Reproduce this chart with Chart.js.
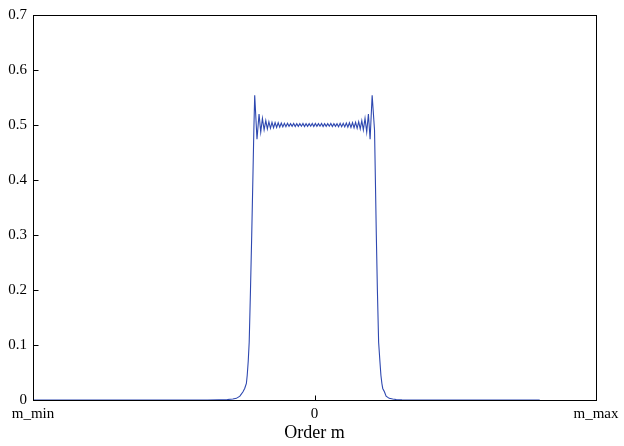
<!DOCTYPE html>
<html>

<head>
  <meta charset="UTF-8" />
  <title>Order spectrum</title>
  <script src="https://cdn.jsdelivr.net/npm/chart.js@4.4.1/dist/chart.umd.min.js"></script>
  <style>
    body { margin: 0; background: #fff; }
    #wrap { width: 624px; height: 446px; }
  </style>
</head>

<body>
  <div id="wrap"><canvas id="chart" width="624" height="446"></canvas></div>
  <script>
    // order axis, normalised so that m_min = -1 and m_max = 1
    const orderM = [
      -1.0, -0.8, -0.6, -0.45, -0.38, -0.34, -0.31, -0.29, -0.2775, -0.265, -0.254, -0.248, -0.242,
      -0.239, -0.2355, -0.232, -0.2274, -0.223, -0.219, -0.2155, -0.2124,
      -0.2043, -0.197, -0.191, -0.185, -0.179, -0.173, -0.1675, -0.162, -0.1565, -0.151, -0.1455,
      -0.14, -0.1345, -0.129, -0.1235, -0.118, -0.1125, -0.107, -0.1015, -0.096, -0.0905, -0.085,
      -0.0795, -0.074, -0.0685, -0.063, -0.0575, -0.052, -0.0465, -0.041, -0.0355, -0.03, -0.0245,
      -0.019, -0.0135, -0.008, -0.0025,
      0.003, 0.0085, 0.014, 0.0195, 0.025, 0.0305, 0.036, 0.0415, 0.047, 0.0525, 0.058, 0.0635,
      0.069, 0.0745, 0.08, 0.0855, 0.091, 0.0965, 0.102, 0.1075, 0.113, 0.1185, 0.124, 0.1295,
      0.135, 0.1405, 0.146, 0.1515, 0.157, 0.1625, 0.168, 0.1735, 0.1795, 0.1855, 0.1915, 0.1975,
      0.2048, 0.2133,
      0.2163, 0.2196, 0.2234, 0.2278, 0.2324, 0.2359, 0.2394, 0.2424, 0.2484, 0.2544, 0.2654, 0.2779,
      0.2904, 0.3104, 0.3404, 0.3804, 0.45, 0.6, 0.8, 1.0
    ];

    const amplitude = [
      0, 0, 0, 0, 0, 0.0003, 0.0008, 0.0018, 0.003, 0.007, 0.015, 0.021, 0.03,
      0.045, 0.07, 0.105, 0.2, 0.3, 0.4, 0.49, 0.554,
      0.474, 0.52, 0.487, 0.512, 0.491, 0.508, 0.493, 0.506, 0.494, 0.505, 0.495,
      0.5045, 0.4955, 0.504, 0.496, 0.5035, 0.4965, 0.503, 0.497, 0.503, 0.4975, 0.5025,
      0.4975, 0.5028, 0.4972, 0.5025, 0.4975, 0.5025, 0.4978, 0.5028, 0.4972, 0.5025, 0.4975,
      0.5025, 0.4978, 0.5028, 0.4972,
      0.5028, 0.4975, 0.5025, 0.4978, 0.5028, 0.4972, 0.5025, 0.4975, 0.5025, 0.4978, 0.5028, 0.4972,
      0.5025, 0.4975, 0.5025, 0.497, 0.503, 0.497, 0.503, 0.4965, 0.5035, 0.496, 0.504, 0.4955,
      0.5045, 0.495, 0.505, 0.494, 0.506, 0.493, 0.508, 0.491, 0.512, 0.487, 0.52, 0.474,
      0.554, 0.49,
      0.4, 0.3, 0.2, 0.105, 0.07, 0.045, 0.03, 0.021, 0.015, 0.007, 0.003,
      0.0018, 0.0008, 0.0003, 0, 0, 0, 0, 0
    ];

    const xTickValues = [-1, 0, 1];
    const xTickLabels = ['m_min', '0', 'm_max'];
    const yTickValues = [0, 0.1, 0.2, 0.3, 0.4, 0.5, 0.6, 0.7];

    const serif = '"Liberation Serif", "DejaVu Serif", serif';

    // MATLAB-like frame: box around the axes, ticks pointing inward
    const axesBox = {
      id: 'axesBox',
      afterDraw(chart) {
        const { ctx, chartArea: a, scales } = chart;
        const L = Math.round(a.left) + 0.5, R = Math.round(a.right) + 0.5;
        const T = Math.round(a.top) + 0.5, B = Math.round(a.bottom) + 0.5;
        ctx.save();
        ctx.strokeStyle = '#000';
        ctx.lineWidth = 1;
        ctx.strokeRect(L, T, R - L, B - T);
        ctx.beginPath();
        yTickValues.forEach(v => {
          const y = Math.round(scales.y.getPixelForValue(v)) + 0.5;
          ctx.moveTo(L, y);
          ctx.lineTo(L + 5, y);
        });
        xTickValues.forEach(v => {
          const x = Math.round(scales.x.getPixelForValue(v)) + 0.5;
          ctx.moveTo(x, B);
          ctx.lineTo(x, B - 5);
        });
        ctx.stroke();
        ctx.restore();
      }
    };

    new Chart(document.getElementById('chart'), {
      type: 'line',
      data: {
        datasets: [{
          data: orderM.map((m, i) => ({ x: m, y: amplitude[i] })),
          borderColor: '#2e48b0',
          borderWidth: 1.1,
          pointRadius: 0,
          tension: 0,
          fill: false
        }]
      },
      options: {
        responsive: false,
        animation: false,
        layout: { padding: { top: 12, right: 28, left: 0, bottom: 0 } },
        plugins: {
          legend: { display: false },
          tooltip: { enabled: false }
        },
        scales: {
          x: {
            type: 'linear',
            min: -1,
            max: 1,
            afterBuildTicks: scale => {
              scale.ticks = xTickValues.map(v => ({ value: v }));
            },
            afterFit: scale => { scale.height = 46; },
            grid: { display: false, drawTicks: false },
            border: { display: false },
            ticks: {
              color: '#000',
              padding: 5,
              maxRotation: 0,
              autoSkip: false,
              font: { family: serif, size: 15 },
              callback: v => xTickLabels[xTickValues.indexOf(v)]
            },
            title: {
              display: true,
              text: 'Order m',
              color: '#000',
              font: { family: serif, size: 18 },
              padding: { top: 0, bottom: 2 }
            }
          },
          y: {
            min: 0,
            max: 0.7,
            afterBuildTicks: scale => {
              scale.ticks = yTickValues.map(v => ({ value: v }));
            },
            afterFit: scale => { scale.width = 33; },
            grid: { display: false, drawTicks: false },
            border: { display: false },
            ticks: {
              color: '#000',
              padding: 6,
              font: { family: serif, size: 15 },
              callback: v => (v === 0 ? '0' : v.toFixed(1))
            }
          }
        }
      },
      plugins: [axesBox]
    });
  </script>
</body>

</html>
